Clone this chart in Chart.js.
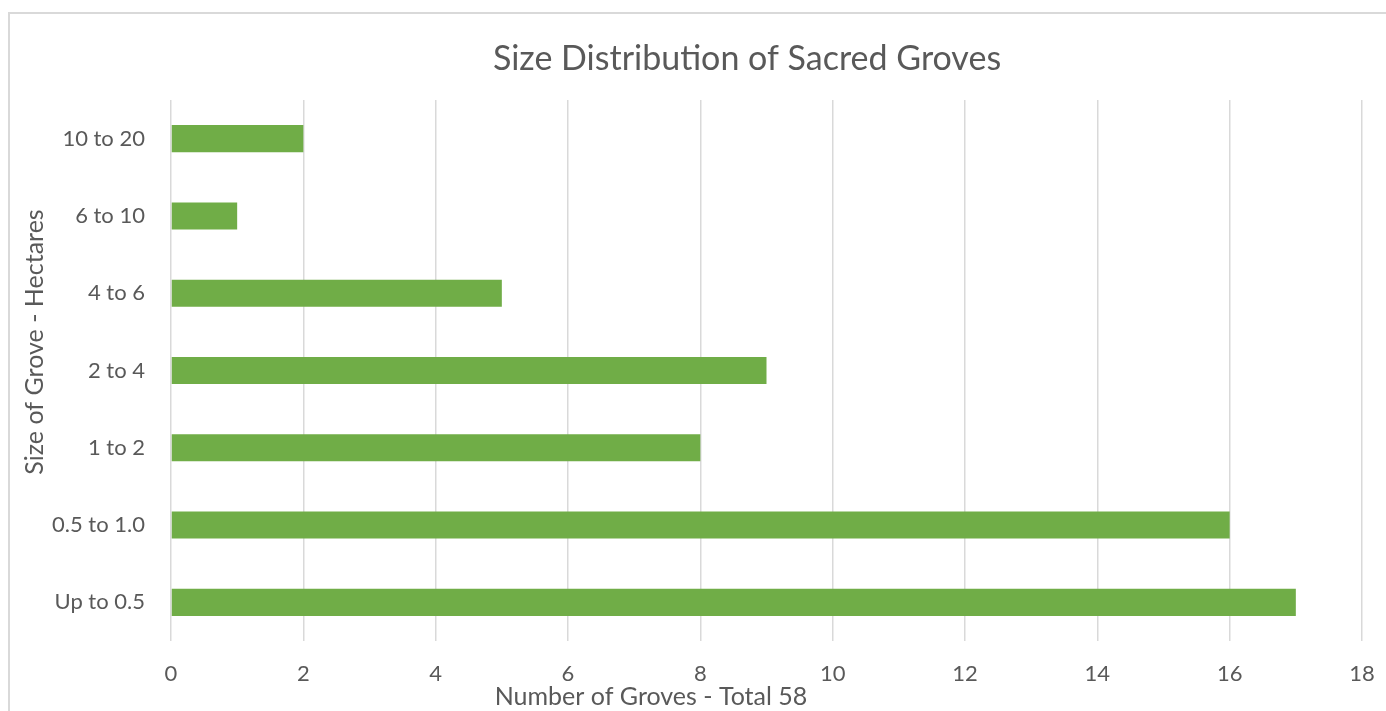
<!DOCTYPE html>
<html>
<head>
<meta charset="utf-8">
<script src="https://cdn.jsdelivr.net/npm/chart.js@4"></script>
<style>
  html, body { margin: 0; padding: 0; background: #fff; }
  #wrap { position: relative; width: 1386px; height: 711px; overflow: hidden; }
  #frame { position: absolute; left: 8px; top: 12px; width: 1400px; height: 720px; border: 2px solid #d9d9d9; box-sizing: border-box; }
  canvas { position: absolute; left: 0; top: 0; }
</style>
</head>
<body>
<div id="wrap">
  <div id="frame"></div>
  <canvas id="myChart" width="1386" height="711"></canvas>
</div>
<script>
// grove size classes (hectares), top to bottom
const sizeClasses = ["10 to 20", "6 to 10", "4 to 6", "2 to 4", "1 to 2", "0.5 to 1.0", "Up to 0.5"]
// number of groves in each class
const groveCounts = [2, 1, 5, 9, 8, 16, 17]
const xTicks = [0, 2, 4, 6, 8, 10, 12, 14, 16, 18]

const chartTitle = "Size Distribution of Sacred Groves"
const xTitle = "Number of Groves - Total 58"
const yTitle = "Size of Grove - Hectares"

const grey = "#595959"
const fontName = "Lato, 'Open Sans', sans-serif"

// chart title and axis titles drawn by hand so they sit where they should
const titles = {
  id: "titles",
  afterDraw(chart) {
    const ctx = chart.ctx
    const area = chart.chartArea
    ctx.save()
    ctx.fillStyle = grey
    ctx.textAlign = "center"
    ctx.textBaseline = "middle"
    ctx.font = "34px " + fontName
    ctx.fillText(chartTitle, 747, 59)
    ctx.font = "25px " + fontName
    ctx.fillText(xTitle, area.left + 480, 697)
    ctx.translate(35, area.top + 242)
    ctx.rotate(-Math.PI / 2)
    ctx.fillText(yTitle, 0, 0)
    ctx.restore()
  }
}

const groves = new Chart("myChart", {
  type: "bar",
  data: {
    labels: sizeClasses,
    datasets: [{
      label: "Groves",
      data: groveCounts,
      backgroundColor: "#70ad47",
      borderWidth: 0,
      barPercentage: 1,
      categoryPercentage: 0.35
    }]
  },
  plugins: [titles],
  options: {
    indexAxis: "y",
    responsive: false,
    animation: false,
    layout: { padding: { left: 0, right: 24, top: 100, bottom: 0 } },
    plugins: {
      legend: { display: false },
      tooltip: { enabled: false },
      title: { display: false }
    },
    scales: {
      x: {
        min: 0,
        max: 18,
        afterBuildTicks: s => { s.ticks = xTicks.map(v => ({ value: v })) },
        afterFit: s => { s.height = 70; s.paddingLeft = 0; s.paddingRight = 0 },
        grid: { color: "#d9d9d9", lineWidth: 1.5, drawTicks: false },
        border: { display: false },
        ticks: { color: grey, font: { family: fontName, size: 22 }, padding: 20 }
      },
      y: {
        afterFit: s => { s.width = 171; s.paddingTop = 0; s.paddingBottom = 0 },
        grid: { display: false, drawTicks: false },
        border: { display: false },
        ticks: { color: grey, font: { family: fontName, size: 22 }, padding: 26 }
      }
    }
  }
})
</script>
</body>
</html>
